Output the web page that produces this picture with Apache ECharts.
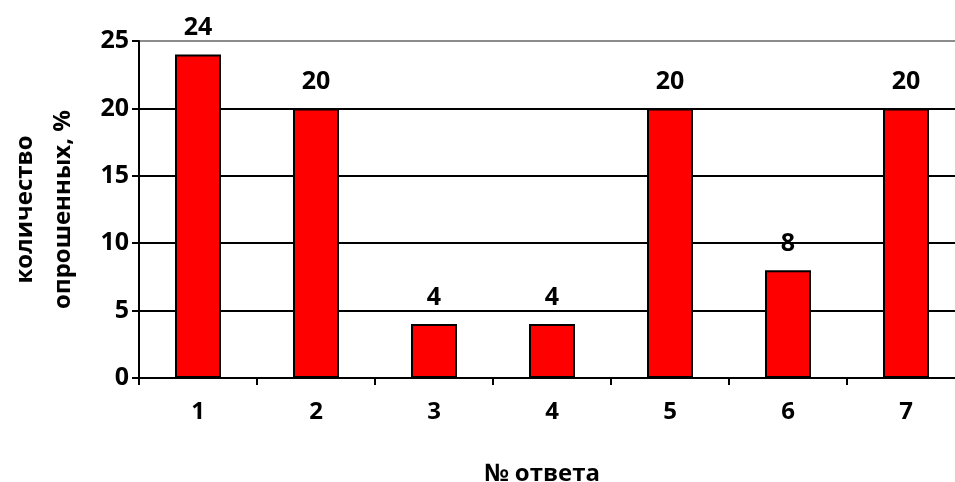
<!DOCTYPE html>
<html>
<head>
<meta charset="utf-8">
<script src="https://cdn.jsdelivr.net/npm/echarts@6/dist/echarts.min.js"></script>
<style>
  html, body { margin: 0; padding: 0; background: #fff; }
  #chart { width: 955px; height: 482px; }
</style>
</head>
<body>
<div id="chart"></div>
<script>
// Answer numbers and share of respondents (%)
var answers = ['1', '2', '3', '4', '5', '6', '7'];
var shares = [24, 20, 4, 4, 20, 8, 20];
var yTicks = [0, 5, 10, 15, 20, 25];

var FONT = '"Open Sans", Lato, sans-serif';

var chart = echarts.init(document.getElementById('chart'), null, { renderer: 'canvas' });

chart.setOption({
  backgroundColor: '#ffffff',
  animation: false,
  grid: { left: 139, top: 41, width: 826, height: 337, containLabel: false, outerBoundsMode: 'none' },
  xAxis: {
    type: 'category',
    data: answers,
    name: '№ ответа',
    nameLocation: 'middle',
    nameGap: 84,
    nameTextStyle: { fontFamily: FONT, fontWeight: 'bold', fontSize: 24, color: '#000', padding: [0, 20, 0, 0] },
    axisLine: { lineStyle: { color: '#000', width: 2 } },
    axisTick: { show: true, alignWithLabel: false, length: 7, lineStyle: { color: '#000', width: 2 } },
    axisLabel: { margin: 22, fontFamily: FONT, fontWeight: 'bold', fontSize: 24, color: '#000' },
    splitLine: { show: false }
  },
  yAxis: {
    type: 'value',
    min: yTicks[0],
    max: yTicks[yTicks.length - 1],
    interval: yTicks[1] - yTicks[0],
    name: 'количество\nопрошенных, %',
    nameLocation: 'middle',
    nameGap: 57,
    nameTextStyle: { fontFamily: FONT, fontWeight: 'bold', fontSize: 24, color: '#000', lineHeight: 38, align: 'center' },
    axisLine: { show: true, lineStyle: { color: '#000', width: 2 } },
    axisTick: { show: true, inside: false, length: 7, lineStyle: { color: '#000', width: 2 } },
    axisLabel: { margin: 10, fontFamily: FONT, fontWeight: 'bold', fontSize: 25, color: '#000' },
    splitLine: { show: true, lineStyle: { color: ['#000', '#000', '#000', '#000', '#000', '#8c8c8c'], width: 2 } }
  },
  series: [{
    type: 'bar',
    data: shares,
    barWidth: 46,
    itemStyle: { color: '#ff0000', borderColor: '#000', borderWidth: 2 },
    label: {
      show: true,
      position: 'top',
      distance: 14,
      fontFamily: FONT,
      fontWeight: 'bold',
      fontSize: 25,
      color: '#000'
    }
  }]
});
</script>
</body>
</html>
